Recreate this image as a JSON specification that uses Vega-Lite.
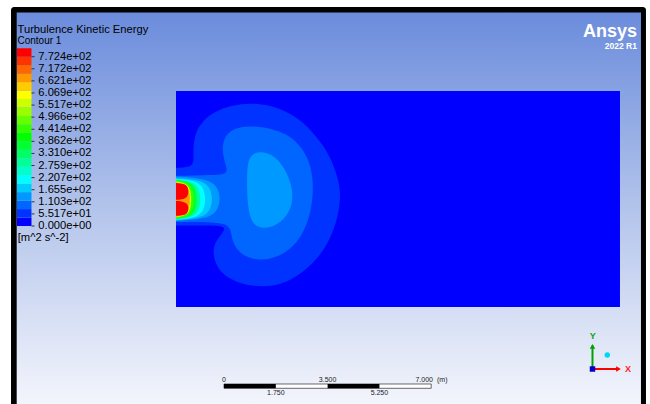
{
  "$schema": "https://vega.github.io/schema/vega-lite/v6.json",
  "width": 650,
  "height": 404,
  "autosize": {"type": "fit", "contains": "padding"},
  "padding": 0,
  "background": "white",
  "config": {
    "view": {"stroke": null},
    "axis": {"disable": true},
    "legend": {"disable": true},
    "text": {"font": "Liberation Sans"}
  },
  "data": {"values": [{}]},
  "datasets": {
    "shapes": [
      {"s":"s01","b":1,"i":1,"x":0,"y":4.696},{"s":"s01","b":1,"i":2,"x":0,"y":4.696},{"s":"s01","b":1,"i":3,"x":0,"y":4.696},
      {"s":"s01","b":1,"i":4,"x":0.473,"y":4.730},{"s":"s01","b":1,"i":5,"x":0.608,"y":4.865},{"s":"s01","b":1,"i":6,"x":0.574,"y":5.304},
      {"s":"s01","b":1,"i":7,"x":0.642,"y":5.878},{"s":"s01","b":1,"i":8,"x":0.878,"y":6.250},{"s":"s01","b":1,"i":9,"x":1.250,"y":6.588},
      {"s":"s01","b":1,"i":10,"x":1.926,"y":6.824},{"s":"s01","b":1,"i":11,"x":2.500,"y":6.892},{"s":"s01","b":1,"i":12,"x":3.176,"y":6.824},
      {"s":"s01","b":1,"i":13,"x":3.750,"y":6.588},{"s":"s01","b":1,"i":14,"x":4.257,"y":6.284},{"s":"s01","b":1,"i":15,"x":4.628,"y":5.878},
      {"s":"s01","b":1,"i":16,"x":4.966,"y":5.473},{"s":"s01","b":1,"i":17,"x":5.203,"y":5.068},{"s":"s01","b":1,"i":18,"x":5.473,"y":4.392},
      {"s":"s01","b":1,"i":19,"x":5.574,"y":3.784},{"s":"s01","b":1,"i":20,"x":5.473,"y":3.041},{"s":"s01","b":1,"i":21,"x":5.203,"y":2.264},
      {"s":"s01","b":1,"i":22,"x":4.764,"y":1.588},{"s":"s01","b":1,"i":23,"x":4.088,"y":1.014},{"s":"s01","b":1,"i":24,"x":3.412,"y":0.709},
      {"s":"s01","b":1,"i":25,"x":2.601,"y":0.676},{"s":"s01","b":1,"i":26,"x":1.926,"y":0.878},{"s":"s01","b":1,"i":27,"x":1.486,"y":1.182},
      {"s":"s01","b":1,"i":28,"x":1.284,"y":1.588},{"s":"s01","b":1,"i":29,"x":1.250,"y":2.027},{"s":"s01","b":1,"i":30,"x":1.419,"y":2.331},
      {"s":"s01","b":1,"i":31,"x":1.655,"y":2.601},{"s":"s01","b":1,"i":32,"x":1.622,"y":2.736},{"s":"s01","b":1,"i":33,"x":0.980,"y":2.753},
      {"s":"s01","b":1,"i":34,"x":0,"y":2.753},{"s":"s01","b":1,"i":35,"x":0,"y":2.753},{"s":"s01","b":1,"i":36,"x":0,"y":2.753},

      {"s":"s02","b":2,"i":1,"x":0,"y":4.426},{"s":"s02","b":2,"i":2,"x":0,"y":4.426},{"s":"s02","b":2,"i":3,"x":0,"y":4.426},
      {"s":"s02","b":2,"i":4,"x":0.980,"y":4.459},{"s":"s02","b":2,"i":5,"x":1.554,"y":4.459},{"s":"s02","b":2,"i":6,"x":1.757,"y":4.561},
      {"s":"s02","b":2,"i":7,"x":1.655,"y":4.865},{"s":"s02","b":2,"i":8,"x":1.554,"y":5.304},{"s":"s02","b":2,"i":9,"x":1.622,"y":5.709},
      {"s":"s02","b":2,"i":10,"x":1.824,"y":5.946},{"s":"s02","b":2,"i":11,"x":2.162,"y":6.081},{"s":"s02","b":2,"i":12,"x":2.568,"y":6.115},
      {"s":"s02","b":2,"i":13,"x":3.176,"y":6.047},{"s":"s02","b":2,"i":14,"x":3.750,"y":5.845},{"s":"s02","b":2,"i":15,"x":4.189,"y":5.473},
      {"s":"s02","b":2,"i":16,"x":4.493,"y":4.966},{"s":"s02","b":2,"i":17,"x":4.628,"y":4.358},{"s":"s02","b":2,"i":18,"x":4.628,"y":3.682},
      {"s":"s02","b":2,"i":19,"x":4.493,"y":2.939},{"s":"s02","b":2,"i":20,"x":4.122,"y":2.162},{"s":"s02","b":2,"i":21,"x":3.514,"y":1.689},
      {"s":"s02","b":2,"i":22,"x":2.838,"y":1.554},{"s":"s02","b":2,"i":23,"x":2.230,"y":1.723},{"s":"s02","b":2,"i":24,"x":1.926,"y":2.128},
      {"s":"s02","b":2,"i":25,"x":1.858,"y":2.534},{"s":"s02","b":2,"i":26,"x":1.791,"y":2.770},{"s":"s02","b":2,"i":27,"x":1.318,"y":2.872},
      {"s":"s02","b":2,"i":28,"x":0,"y":2.872},{"s":"s02","b":2,"i":29,"x":0,"y":2.872},{"s":"s02","b":2,"i":30,"x":0,"y":2.872},

      {"s":"s03","b":3,"i":1,"x":2.399,"y":4.628},{"s":"s03","b":3,"i":2,"x":2.466,"y":5.068},{"s":"s03","b":3,"i":3,"x":2.703,"y":5.236},
      {"s":"s03","b":3,"i":4,"x":3.041,"y":5.236},{"s":"s03","b":3,"i":5,"x":3.412,"y":5.034},{"s":"s03","b":3,"i":6,"x":3.750,"y":4.561},
      {"s":"s03","b":3,"i":7,"x":3.953,"y":3.953},{"s":"s03","b":3,"i":8,"x":3.919,"y":3.378},{"s":"s03","b":3,"i":9,"x":3.649,"y":2.939},
      {"s":"s03","b":3,"i":10,"x":3.209,"y":2.669},{"s":"s03","b":3,"i":11,"x":2.770,"y":2.669},{"s":"s03","b":3,"i":12,"x":2.534,"y":2.905},
      {"s":"s03","b":3,"i":13,"x":2.432,"y":3.378},{"s":"s03","b":3,"i":14,"x":2.399,"y":3.953},

      {"s":"s04","b":3,"i":1,"x":0,"y":4.409},{"s":"s04","b":3,"i":2,"x":0,"y":4.409},{"s":"s04","b":3,"i":3,"x":0,"y":4.409},
      {"s":"s04","b":3,"i":4,"x":0.958,"y":4.340},{"s":"s04","b":3,"i":5,"x":1.380,"y":4.131},{"s":"s04","b":3,"i":6,"x":1.520,"y":3.657},
      {"s":"s04","b":3,"i":7,"x":1.380,"y":3.183},{"s":"s04","b":3,"i":8,"x":0.958,"y":2.974},
      {"s":"s04","b":3,"i":9,"x":0,"y":2.905},{"s":"s04","b":3,"i":10,"x":0,"y":2.905},{"s":"s04","b":3,"i":11,"x":0,"y":2.905},

      {"s":"s05","b":4,"i":1,"x":0,"y":4.358},{"s":"s05","b":4,"i":2,"x":0,"y":4.358},{"s":"s05","b":4,"i":3,"x":0,"y":4.358},
      {"s":"s05","b":4,"i":4,"x":0.788,"y":4.292},{"s":"s05","b":4,"i":5,"x":1.135,"y":4.094},{"s":"s05","b":4,"i":6,"x":1.250,"y":3.644},
      {"s":"s05","b":4,"i":7,"x":1.135,"y":3.194},{"s":"s05","b":4,"i":8,"x":0.788,"y":2.996},
      {"s":"s05","b":4,"i":9,"x":0,"y":2.930},{"s":"s05","b":4,"i":10,"x":0,"y":2.930},{"s":"s05","b":4,"i":11,"x":0,"y":2.930},

      {"s":"s06","b":5,"i":1,"x":0,"y":4.335},{"s":"s06","b":5,"i":2,"x":0,"y":4.335},{"s":"s06","b":5,"i":3,"x":0,"y":4.335},
      {"s":"s06","b":5,"i":4,"x":0.639,"y":4.271},{"s":"s06","b":5,"i":5,"x":0.921,"y":4.078},{"s":"s06","b":5,"i":6,"x":1.014,"y":3.640},
      {"s":"s06","b":5,"i":7,"x":0.921,"y":3.202},{"s":"s06","b":5,"i":8,"x":0.639,"y":3.009},
      {"s":"s06","b":5,"i":9,"x":0,"y":2.945},{"s":"s06","b":5,"i":10,"x":0,"y":2.945},{"s":"s06","b":5,"i":11,"x":0,"y":2.945},

      {"s":"s07","b":7,"i":1,"x":0,"y":4.310},{"s":"s07","b":7,"i":2,"x":0,"y":4.310},{"s":"s07","b":7,"i":3,"x":0,"y":4.310},
      {"s":"s07","b":7,"i":4,"x":0.532,"y":4.248},{"s":"s07","b":7,"i":5,"x":0.767,"y":4.060},{"s":"s07","b":7,"i":6,"x":0.845,"y":3.635},
      {"s":"s07","b":7,"i":7,"x":0.767,"y":3.210},{"s":"s07","b":7,"i":8,"x":0.532,"y":3.022},
      {"s":"s07","b":7,"i":9,"x":0,"y":2.960},{"s":"s07","b":7,"i":10,"x":0,"y":2.960},{"s":"s07","b":7,"i":11,"x":0,"y":2.960},

      {"s":"s08","b":9,"i":1,"x":0,"y":4.290},{"s":"s08","b":9,"i":2,"x":0,"y":4.290},{"s":"s08","b":9,"i":3,"x":0,"y":4.290},
      {"s":"s08","b":9,"i":4,"x":0.454,"y":4.230},{"s":"s08","b":9,"i":5,"x":0.654,"y":4.048},{"s":"s08","b":9,"i":6,"x":0.720,"y":3.635},
      {"s":"s08","b":9,"i":7,"x":0.654,"y":3.222},{"s":"s08","b":9,"i":8,"x":0.454,"y":3.040},
      {"s":"s08","b":9,"i":9,"x":0,"y":2.980},{"s":"s08","b":9,"i":10,"x":0,"y":2.980},{"s":"s08","b":9,"i":11,"x":0,"y":2.980},

      {"s":"s09","b":11,"i":1,"x":0,"y":4.270},{"s":"s09","b":11,"i":2,"x":0,"y":4.270},{"s":"s09","b":11,"i":3,"x":0,"y":4.270},
      {"s":"s09","b":11,"i":4,"x":0.391,"y":4.212},{"s":"s09","b":11,"i":5,"x":0.563,"y":4.035},{"s":"s09","b":11,"i":6,"x":0.620,"y":3.635},
      {"s":"s09","b":11,"i":7,"x":0.563,"y":3.235},{"s":"s09","b":11,"i":8,"x":0.391,"y":3.058},
      {"s":"s09","b":11,"i":9,"x":0,"y":3.000},{"s":"s09","b":11,"i":10,"x":0,"y":3.000},{"s":"s09","b":11,"i":11,"x":0,"y":3.000},

      {"s":"s10","b":14,"i":1,"x":0,"y":4.240},{"s":"s10","b":14,"i":2,"x":0,"y":4.240},{"s":"s10","b":14,"i":3,"x":0,"y":4.240},
      {"s":"s10","b":14,"i":4,"x":0.334,"y":4.184},{"s":"s10","b":14,"i":5,"x":0.481,"y":4.016},{"s":"s10","b":14,"i":6,"x":0.530,"y":3.635},
      {"s":"s10","b":14,"i":7,"x":0.481,"y":3.254},{"s":"s10","b":14,"i":8,"x":0.334,"y":3.086},
      {"s":"s10","b":14,"i":9,"x":0,"y":3.030},{"s":"s10","b":14,"i":10,"x":0,"y":3.030},{"s":"s10","b":14,"i":11,"x":0,"y":3.030},

      {"s":"s11","b":17,"i":1,"x":0,"y":4.210},{"s":"s11","b":17,"i":2,"x":0,"y":4.210},{"s":"s11","b":17,"i":3,"x":0,"y":4.210},
      {"s":"s11","b":17,"i":4,"x":0.302,"y":4.157},{"s":"s11","b":17,"i":5,"x":0.436,"y":3.995},{"s":"s11","b":17,"i":6,"x":0.480,"y":3.630},
      {"s":"s11","b":17,"i":7,"x":0.436,"y":3.265},{"s":"s11","b":17,"i":8,"x":0.302,"y":3.103},
      {"s":"s11","b":17,"i":9,"x":0,"y":3.050},{"s":"s11","b":17,"i":10,"x":0,"y":3.050},{"s":"s11","b":17,"i":11,"x":0,"y":3.050},

      {"s":"s12","b":20,"i":1,"x":0,"y":4.189},{"s":"s12","b":20,"i":2,"x":0,"y":4.189},{"s":"s12","b":20,"i":3,"x":0,"y":4.189},
      {"s":"s12","b":20,"i":4,"x":0.271,"y":4.163},{"s":"s12","b":20,"i":5,"x":0.390,"y":4.083},{"s":"s12","b":20,"i":6,"x":0.430,"y":3.902},
      {"s":"s12","b":20,"i":7,"x":0.390,"y":3.721},{"s":"s12","b":20,"i":8,"x":0.271,"y":3.641},
      {"s":"s12","b":20,"i":9,"x":0,"y":3.615},{"s":"s12","b":20,"i":10,"x":0,"y":3.615},{"s":"s12","b":20,"i":11,"x":0,"y":3.615},

      {"s":"s13","b":20,"i":1,"x":0,"y":3.581},{"s":"s13","b":20,"i":2,"x":0,"y":3.581},{"s":"s13","b":20,"i":3,"x":0,"y":3.581},
      {"s":"s13","b":20,"i":4,"x":0.271,"y":3.558},{"s":"s13","b":20,"i":5,"x":0.390,"y":3.487},{"s":"s13","b":20,"i":6,"x":0.430,"y":3.328},
      {"s":"s13","b":20,"i":7,"x":0.390,"y":3.169},{"s":"s13","b":20,"i":8,"x":0.271,"y":3.098},
      {"s":"s13","b":20,"i":9,"x":0,"y":3.075},{"s":"s13","b":20,"i":10,"x":0,"y":3.075},{"s":"s13","b":20,"i":11,"x":0,"y":3.075}
    ],
    "bands": [
      {"b":0,"lo":0,"hi":38.62},{"b":1,"lo":38.62,"hi":77.24},{"b":2,"lo":77.24,"hi":115.86},{"b":3,"lo":115.86,"hi":154.48},
      {"b":4,"lo":154.48,"hi":193.1},{"b":5,"lo":193.1,"hi":231.72},{"b":6,"lo":231.72,"hi":270.34},{"b":7,"lo":270.34,"hi":308.96},
      {"b":8,"lo":308.96,"hi":347.58},{"b":9,"lo":347.58,"hi":386.2},{"b":10,"lo":386.2,"hi":424.82},{"b":11,"lo":424.82,"hi":463.44},
      {"b":12,"lo":463.44,"hi":502.06},{"b":13,"lo":502.06,"hi":540.68},{"b":14,"lo":540.68,"hi":579.3},{"b":15,"lo":579.3,"hi":617.92},
      {"b":16,"lo":617.92,"hi":656.54},{"b":17,"lo":656.54,"hi":695.16},{"b":18,"lo":695.16,"hi":733.78},{"b":19,"lo":733.78,"hi":772.4},
      {"b":20,"lo":772.4,"hi":811.02}
    ],
    "labels": [
      {"v":0,"t":"0.000e+00"},{"v":55.17,"t":"5.517e+01"},{"v":110.3,"t":"1.103e+02"},{"v":165.5,"t":"1.655e+02"},
      {"v":220.7,"t":"2.207e+02"},{"v":275.9,"t":"2.759e+02"},{"v":331.0,"t":"3.310e+02"},{"v":386.2,"t":"3.862e+02"},
      {"v":441.4,"t":"4.414e+02"},{"v":496.6,"t":"4.966e+02"},{"v":551.7,"t":"5.517e+02"},{"v":606.9,"t":"6.069e+02"},
      {"v":662.1,"t":"6.621e+02"},{"v":717.2,"t":"7.172e+02"},{"v":772.4,"t":"7.724e+02"}
    ],
    "scalebar": [
      {"x0":1.622,"x1":3.372},{"x0":5.122,"x1":6.872}
    ],
    "sbtop": [
      {"m":1.622,"t":"0"},{"m":5.122,"t":"3.500"}
    ],
    "sbbottom": [
      {"m":3.372,"t":"1.750"},{"m":6.872,"t":"5.250"}
    ]
  },
  "resolve": {"scale": {"y": "independent"}},
  "layer": [
    {
      "layer": [
        {
          "mark": {"type": "rect", "color": "#000000", "cornerRadiusTopLeft": 3, "cornerRadiusTopRight": 3},
          "encoding": {
            "x": {"datum": -5.574, "type": "quantitative", "scale": {"domain": [-5.946, 16.014], "nice": false, "zero": false}},
            "x2": {"datum": 15.878},
            "y": {"datum": 10.135, "type": "quantitative", "scale": {"domain": [-3.277, 10.372], "nice": false, "zero": false}},
            "y2": {"datum": -3.277}
          }
        },
        {
          "mark": {"type": "rect", "color": {"gradient": "linear", "x1": 0, "y1": 0, "x2": 0, "y2": 1,
            "stops": [{"offset": 0, "color": "#6b8cdc"}, {"offset": 0.5, "color": "#b3c4eb"}, {"offset": 1, "color": "#f3f5fc"}]}},
          "encoding": {
            "x": {"datum": -5.382, "type": "quantitative", "scale": {"domain": [-5.946, 16.014], "nice": false, "zero": false}},
            "x2": {"datum": 15.709},
            "y": {"datum": 9.949, "type": "quantitative", "scale": {"domain": [-3.277, 10.372], "nice": false, "zero": false}},
            "y2": {"datum": -3.277}
          }
        },
        {
          "mark": {"type": "rect", "color": "#0000ff"},
          "encoding": {
            "x": {"datum": 0, "type": "quantitative", "scale": {"domain": [-5.946, 16.014], "nice": false, "zero": false}},
            "x2": {"datum": 15},
            "y": {"datum": 0, "type": "quantitative", "scale": {"domain": [-3.277, 10.372], "nice": false, "zero": false}},
            "y2": {"datum": 7.297}
          }
        },
        {
          "data": {"name": "shapes"},
          "mark": {"type": "line", "filled": true, "interpolate": "basis-closed"},
          "encoding": {
            "x": {"field": "x", "type": "quantitative", "scale": {"domain": [-5.946, 16.014], "nice": false, "zero": false}},
            "y": {"field": "y", "type": "quantitative", "scale": {"domain": [-3.277, 10.372], "nice": false, "zero": false}},
            "detail": {"field": "s", "type": "nominal"},
            "order": {"field": "i", "type": "quantitative"},
            "color": {"field": "b", "type": "ordinal", "legend": null,
              "scale": {"domain": [0,1,2,3,4,5,6,7,8,9,10,11,12,13,14,15,16,17,18,19,20],
                "range": ["#0000ff","#0033ff","#0066ff","#0099ff","#00ccff","#00ffff","#00ffcc","#00ff99","#00ff66","#00ff33","#00ff00","#33ff00","#66ff00","#99ff00","#ccff00","#ffff00","#ffcc00","#ff9900","#ff6600","#ff3300","#ff0000"]}}
          }
        },
        {
          "mark": {"type": "text", "text": "Turbulence Kinetic Energy", "align": "left", "baseline": "alphabetic", "fontSize": 11.2, "color": "#000000"},
          "encoding": {
            "x": {"datum": -5.355, "type": "quantitative", "scale": {"domain": [-5.946, 16.014], "nice": false, "zero": false}},
            "y": {"datum": 9.257, "type": "quantitative", "scale": {"domain": [-3.277, 10.372], "nice": false, "zero": false}}
          }
        },
        {
          "mark": {"type": "text", "text": "Contour 1", "align": "left", "baseline": "alphabetic", "fontSize": 10, "color": "#000000"},
          "encoding": {
            "x": {"datum": -5.355, "type": "quantitative", "scale": {"domain": [-5.946, 16.014], "nice": false, "zero": false}},
            "y": {"datum": 8.902, "type": "quantitative", "scale": {"domain": [-3.277, 10.372], "nice": false, "zero": false}}
          }
        },
        {
          "mark": {"type": "text", "text": "[m^2 s^-2]", "align": "left", "baseline": "middle", "fontSize": 11.2, "color": "#000000"},
          "encoding": {
            "x": {"datum": -5.348, "type": "quantitative", "scale": {"domain": [-5.946, 16.014], "nice": false, "zero": false}},
            "y": {"datum": 2.331, "type": "quantitative", "scale": {"domain": [-3.277, 10.372], "nice": false, "zero": false}}
          }
        },
        {
          "mark": {"type": "text", "text": "Ansys", "align": "right", "baseline": "alphabetic", "fontSize": 18, "fontWeight": "bold", "color": "#ffffff"},
          "encoding": {
            "x": {"datum": 15.574, "type": "quantitative", "scale": {"domain": [-5.946, 16.014], "nice": false, "zero": false}},
            "y": {"datum": 9.122, "type": "quantitative", "scale": {"domain": [-3.277, 10.372], "nice": false, "zero": false}}
          }
        },
        {
          "mark": {"type": "text", "text": "2022 R1", "align": "right", "baseline": "alphabetic", "fontSize": 8.5, "fontWeight": "bold", "color": "#ffffff"},
          "encoding": {
            "x": {"datum": 15.574, "type": "quantitative", "scale": {"domain": [-5.946, 16.014], "nice": false, "zero": false}},
            "y": {"datum": 8.716, "type": "quantitative", "scale": {"domain": [-3.277, 10.372], "nice": false, "zero": false}}
          }
        },
        {
          "mark": {"type": "rect", "fill": "#ffffff", "stroke": "#444444", "strokeWidth": 0.8},
          "encoding": {
            "x": {"datum": 1.622, "type": "quantitative", "scale": {"domain": [-5.946, 16.014], "nice": false, "zero": false}},
            "x2": {"datum": 8.622},
            "y": {"datum": -2.601, "type": "quantitative", "scale": {"domain": [-3.277, 10.372], "nice": false, "zero": false}},
            "y2": {"datum": -2.747}
          }
        },
        {
          "data": {"name": "scalebar"},
          "mark": {"type": "rect", "color": "#000000"},
          "encoding": {
            "x": {"field": "x0", "type": "quantitative", "scale": {"domain": [-5.946, 16.014], "nice": false, "zero": false}},
            "x2": {"field": "x1"},
            "y": {"datum": -2.601, "type": "quantitative", "scale": {"domain": [-3.277, 10.372], "nice": false, "zero": false}},
            "y2": {"datum": -2.747}
          }
        },
        {
          "data": {"name": "sbtop"},
          "mark": {"type": "text", "align": "center", "baseline": "alphabetic", "fontSize": 7, "color": "#222222"},
          "encoding": {
            "x": {"field": "m", "type": "quantitative", "scale": {"domain": [-5.946, 16.014], "nice": false, "zero": false}},
            "y": {"datum": -2.524, "type": "quantitative", "scale": {"domain": [-3.277, 10.372], "nice": false, "zero": false}},
            "text": {"field": "t"}
          }
        },
        {
          "data": {"name": "sbbottom"},
          "mark": {"type": "text", "align": "center", "baseline": "alphabetic", "fontSize": 7, "color": "#222222"},
          "encoding": {
            "x": {"field": "m", "type": "quantitative", "scale": {"domain": [-5.946, 16.014], "nice": false, "zero": false}},
            "y": {"datum": -2.963, "type": "quantitative", "scale": {"domain": [-3.277, 10.372], "nice": false, "zero": false}},
            "text": {"field": "t"}
          }
        },
        {
          "mark": {"type": "text", "text": "7.000", "align": "right", "baseline": "alphabetic", "fontSize": 7, "color": "#222222"},
          "encoding": {
            "x": {"datum": 8.682, "type": "quantitative", "scale": {"domain": [-5.946, 16.014], "nice": false, "zero": false}},
            "y": {"datum": -2.524, "type": "quantitative", "scale": {"domain": [-3.277, 10.372], "nice": false, "zero": false}}
          }
        },
        {
          "mark": {"type": "text", "text": "(m)", "align": "left", "baseline": "alphabetic", "fontSize": 7, "color": "#222222"},
          "encoding": {
            "x": {"datum": 8.818, "type": "quantitative", "scale": {"domain": [-5.946, 16.014], "nice": false, "zero": false}},
            "y": {"datum": -2.524, "type": "quantitative", "scale": {"domain": [-3.277, 10.372], "nice": false, "zero": false}}
          }
        },
        {
          "mark": {"type": "rule", "color": "#00a000", "strokeWidth": 2},
          "encoding": {
            "x": {"datum": 14.071, "type": "quantitative", "scale": {"domain": [-5.946, 16.014], "nice": false, "zero": false}},
            "y": {"datum": -2.095, "type": "quantitative", "scale": {"domain": [-3.277, 10.372], "nice": false, "zero": false}},
            "y2": {"datum": -1.3}
          }
        },
        {
          "mark": {"type": "point", "shape": "triangle-up", "filled": true, "size": 30, "color": "#00a000", "opacity": 1},
          "encoding": {
            "x": {"datum": 14.071, "type": "quantitative", "scale": {"domain": [-5.946, 16.014], "nice": false, "zero": false}},
            "y": {"datum": -1.33, "type": "quantitative", "scale": {"domain": [-3.277, 10.372], "nice": false, "zero": false}}
          }
        },
        {
          "mark": {"type": "rule", "color": "#ff0000", "strokeWidth": 2},
          "encoding": {
            "x": {"datum": 14.071, "type": "quantitative", "scale": {"domain": [-5.946, 16.014], "nice": false, "zero": false}},
            "x2": {"datum": 14.93},
            "y": {"datum": -2.095, "type": "quantitative", "scale": {"domain": [-3.277, 10.372], "nice": false, "zero": false}}
          }
        },
        {
          "mark": {"type": "point", "shape": "triangle-right", "filled": true, "size": 30, "color": "#ff0000", "opacity": 1},
          "encoding": {
            "x": {"datum": 14.95, "type": "quantitative", "scale": {"domain": [-5.946, 16.014], "nice": false, "zero": false}},
            "y": {"datum": -2.095, "type": "quantitative", "scale": {"domain": [-3.277, 10.372], "nice": false, "zero": false}}
          }
        },
        {
          "mark": {"type": "point", "shape": "square", "filled": true, "size": 30, "color": "#0000c8", "opacity": 1},
          "encoding": {
            "x": {"datum": 14.071, "type": "quantitative", "scale": {"domain": [-5.946, 16.014], "nice": false, "zero": false}},
            "y": {"datum": -2.095, "type": "quantitative", "scale": {"domain": [-3.277, 10.372], "nice": false, "zero": false}}
          }
        },
        {
          "mark": {"type": "point", "shape": "circle", "filled": true, "size": 30, "color": "#00d8f0", "opacity": 1},
          "encoding": {
            "x": {"datum": 14.571, "type": "quantitative", "scale": {"domain": [-5.946, 16.014], "nice": false, "zero": false}},
            "y": {"datum": -1.622, "type": "quantitative", "scale": {"domain": [-3.277, 10.372], "nice": false, "zero": false}}
          }
        },
        {
          "mark": {"type": "text", "text": "X", "align": "center", "baseline": "middle", "fontSize": 9, "fontWeight": "bold", "color": "#ff2020"},
          "encoding": {
            "x": {"datum": 15.27, "type": "quantitative", "scale": {"domain": [-5.946, 16.014], "nice": false, "zero": false}},
            "y": {"datum": -2.095, "type": "quantitative", "scale": {"domain": [-3.277, 10.372], "nice": false, "zero": false}}
          }
        },
        {
          "mark": {"type": "text", "text": "Y", "align": "center", "baseline": "middle", "fontSize": 9, "fontWeight": "bold", "color": "#10a010"},
          "encoding": {
            "x": {"datum": 14.078, "type": "quantitative", "scale": {"domain": [-5.946, 16.014], "nice": false, "zero": false}},
            "y": {"datum": -0.98, "type": "quantitative", "scale": {"domain": [-3.277, 10.372], "nice": false, "zero": false}}
          }
        }
      ]
    },
    {
      "layer": [
        {
          "data": {"name": "bands"},
          "mark": {"type": "rect"},
          "encoding": {
            "x": {"datum": -5.372, "type": "quantitative", "scale": {"domain": [-5.946, 16.014], "nice": false, "zero": false}},
            "x2": {"datum": -4.882},
            "y": {"field": "lo", "type": "quantitative", "scale": {"domain": [-812.1, 1031.1], "nice": false, "zero": false}},
            "y2": {"field": "hi"},
            "color": {"field": "b", "type": "ordinal", "legend": null,
              "scale": {"domain": [0,1,2,3,4,5,6,7,8,9,10,11,12,13,14,15,16,17,18,19,20],
                "range": ["#0000ff","#0033ff","#0066ff","#0099ff","#00ccff","#00ffff","#00ffcc","#00ff99","#00ff66","#00ff33","#00ff00","#33ff00","#66ff00","#99ff00","#ccff00","#ffff00","#ffcc00","#ff9900","#ff6600","#ff3300","#ff0000"]}}
          }
        },
        {
          "data": {"name": "labels"},
          "mark": {"type": "rule", "color": "#333333", "strokeWidth": 1},
          "encoding": {
            "x": {"datum": -4.882, "type": "quantitative", "scale": {"domain": [-5.946, 16.014], "nice": false, "zero": false}},
            "x2": {"datum": -4.78},
            "y": {"field": "v", "type": "quantitative", "scale": {"domain": [-812.1, 1031.1], "nice": false, "zero": false}}
          }
        },
        {
          "data": {"name": "labels"},
          "mark": {"type": "text", "align": "left", "baseline": "middle", "fontSize": 11.2, "color": "#000000"},
          "encoding": {
            "x": {"datum": -4.652, "type": "quantitative", "scale": {"domain": [-5.946, 16.014], "nice": false, "zero": false}},
            "y": {"field": "v", "type": "quantitative", "scale": {"domain": [-812.1, 1031.1], "nice": false, "zero": false}},
            "text": {"field": "t"}
          }
        }
      ]
    }
  ]
}
